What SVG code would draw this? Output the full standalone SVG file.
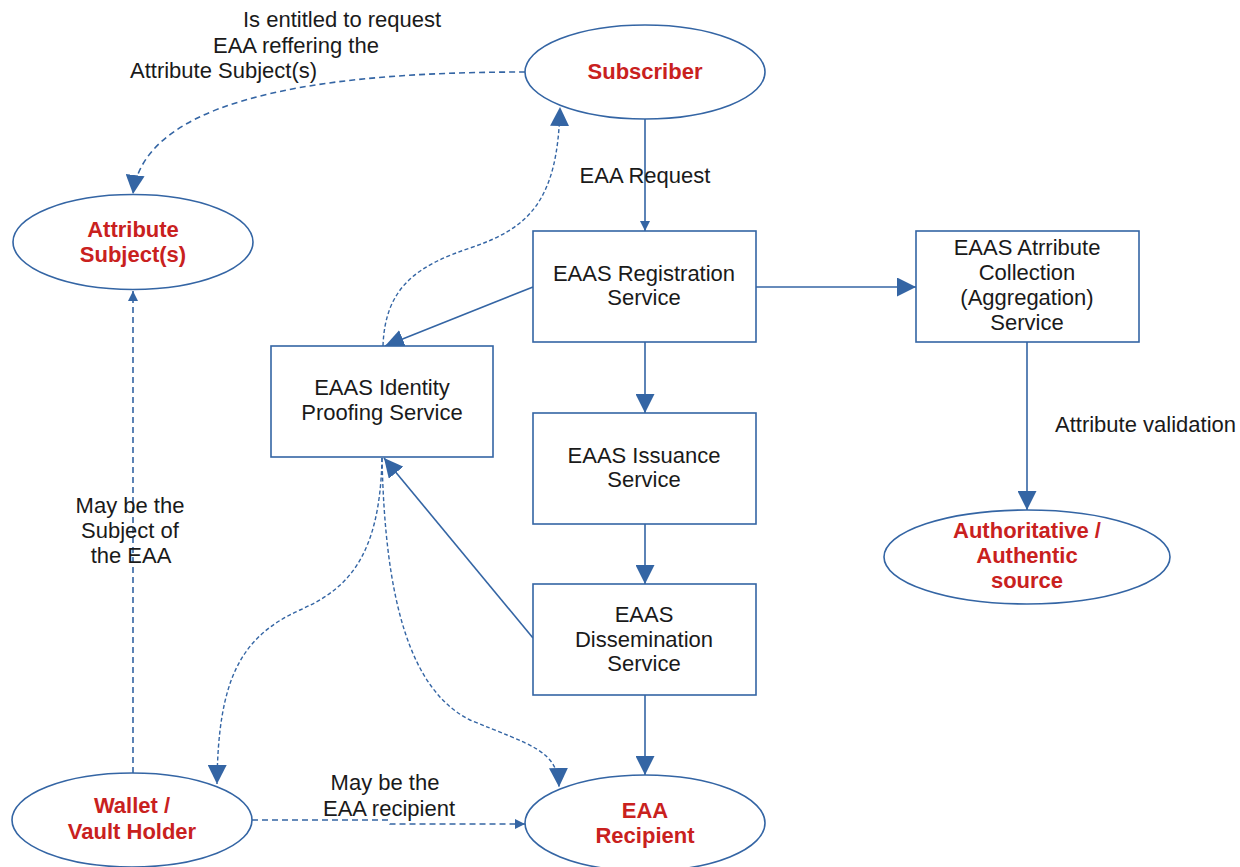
<svg xmlns="http://www.w3.org/2000/svg" width="1240" height="867" viewBox="0 0 1240 867">
  <defs>
    <style>
      .node { fill: #ffffff; stroke: #3465a4; stroke-width: 1.6; }
      .lbl { font-family: "Liberation Sans", Arial, sans-serif; font-size: 22px; fill: #1a1a1a; text-anchor: middle; }
      .actor { font-family: "Liberation Sans", Arial, sans-serif; font-size: 22px; font-weight: bold; fill: #c9211e; text-anchor: middle; }
      .note { font-family: "Liberation Sans", Arial, sans-serif; font-size: 22px; fill: #1a1a1a; }
      .solid { fill: none; stroke: #3465a4; stroke-width: 1.6; }
      .dash { fill: none; stroke: #3465a4; stroke-width: 1.6; stroke-dasharray: 6 4; }
      .dot { fill: none; stroke: #3465a4; stroke-width: 1.4; stroke-dasharray: 4 2.5; }
    </style>
    <marker id="arrow" markerUnits="userSpaceOnUse" markerWidth="19" markerHeight="19" viewBox="0 0 19 19" refX="19" refY="9.5" orient="auto">
      <path d="M0,0 L19,9.5 L0,19 z" fill="#3465a4"/>
    </marker>
    <marker id="arrow-sm" markerUnits="userSpaceOnUse" markerWidth="10" markerHeight="10" viewBox="0 0 10 10" refX="10" refY="5" orient="auto">
      <path d="M0,0 L10,5 L0,10 z" fill="#3465a4"/>
    </marker>
  </defs>

  <!-- connectors -->
  <g id="connectors">
    <path class="dash" d="M525,72 C360,72 145,88 133,194" marker-end="url(#arrow)"/>
    <path class="dot" d="M383,346 C385,285 420,265 470,248 C530,228 558,200 560,107" marker-end="url(#arrow)"/>
    <path class="solid" d="M645,119 L645,231" marker-end="url(#arrow-sm)"/>
    <path class="solid" d="M756,287 L916,287" marker-end="url(#arrow)"/>
    <path class="solid" d="M533,287 L385,346" marker-end="url(#arrow)"/>
    <path class="solid" d="M645,342 L645,413" marker-end="url(#arrow)"/>
    <path class="solid" d="M645,524 L645,584" marker-end="url(#arrow)"/>
    <path class="solid" d="M533,638 L384,458" marker-end="url(#arrow)"/>
    <path class="solid" d="M645,695 L645,775" marker-end="url(#arrow)"/>
    <path class="solid" d="M1027,342 L1027,510" marker-end="url(#arrow)"/>
    <path class="dot" d="M382,458 C380,560 345,590 300,610 C240,637 218,680 217,784" marker-end="url(#arrow)"/>
    <path class="dot" d="M382,458 C385,600 410,690 470,720 C530,745 558,750 559,787" marker-end="url(#arrow)"/>
    <path class="dash" d="M133,773 L133,291" marker-end="url(#arrow-sm)"/>
    <path class="dash" d="M252,820 L388,820 L390,824 L525,824" marker-end="url(#arrow-sm)"/>

    <text class="note" x="243" y="27">Is entitled to request</text>
    <text class="note" x="213" y="53">EAA reffering the</text>
    <text class="note" x="130" y="78">Attribute Subject(s)</text>
    <text class="lbl" x="645" y="183">EAA Request</text>
    <text class="note" x="1055" y="432">Attribute validation</text>
    <text class="lbl" x="130" y="513">May be the</text>
    <text class="lbl" x="130" y="538">Subject of</text>
    <text class="lbl" x="131" y="563">the EAA</text>
    <text class="lbl" x="385" y="790">May be the</text>
    <text class="lbl" x="389" y="816">EAA recipient</text>
  </g>

  <!-- actors -->
  <g id="subscriber">
    <ellipse class="node" cx="645" cy="72" rx="120" ry="47"/>
    <text class="actor" x="645" y="79">Subscriber</text>
  </g>
  <g id="attribute-subject">
    <ellipse class="node" cx="133" cy="242" rx="120" ry="47.5"/>
    <text class="actor" x="133" y="237">Attribute</text>
    <text class="actor" x="133" y="262">Subject(s)</text>
  </g>
  <g id="authoritative-source">
    <ellipse class="node" cx="1027" cy="557" rx="143" ry="47"/>
    <text class="actor" x="1027" y="538">Authoritative /</text>
    <text class="actor" x="1027" y="563">Authentic</text>
    <text class="actor" x="1027" y="588">source</text>
  </g>
  <g id="wallet-holder">
    <ellipse class="node" cx="132" cy="820" rx="120" ry="47"/>
    <text class="actor" x="132" y="813">Wallet /</text>
    <text class="actor" x="132" y="839">Vault Holder</text>
  </g>
  <g id="eaa-recipient">
    <ellipse class="node" cx="645" cy="823" rx="120" ry="48"/>
    <text class="actor" x="645" y="818">EAA</text>
    <text class="actor" x="645" y="843">Recipient</text>
  </g>

  <!-- services -->
  <g id="registration-service">
    <rect class="node" x="533" y="231" width="223" height="111"/>
    <text class="lbl" x="644" y="281">EAAS Registration</text>
    <text class="lbl" x="644" y="305">Service</text>
  </g>
  <g id="attribute-collection-service">
    <rect class="node" x="916" y="231" width="223" height="111"/>
    <text class="lbl" x="1027" y="255">EAAS Atrribute</text>
    <text class="lbl" x="1027" y="280">Collection</text>
    <text class="lbl" x="1027" y="305">(Aggregation)</text>
    <text class="lbl" x="1027" y="330">Service</text>
  </g>
  <g id="identity-proofing-service">
    <rect class="node" x="271" y="346" width="222" height="111"/>
    <text class="lbl" x="382" y="395">EAAS Identity</text>
    <text class="lbl" x="382" y="420">Proofing Service</text>
  </g>
  <g id="issuance-service">
    <rect class="node" x="533" y="413" width="223" height="111"/>
    <text class="lbl" x="644" y="463">EAAS Issuance</text>
    <text class="lbl" x="644" y="487">Service</text>
  </g>
  <g id="dissemination-service">
    <rect class="node" x="533" y="584" width="223" height="111"/>
    <text class="lbl" x="644" y="622">EAAS</text>
    <text class="lbl" x="644" y="647">Dissemination</text>
    <text class="lbl" x="644" y="671">Service</text>
  </g>
</svg>
